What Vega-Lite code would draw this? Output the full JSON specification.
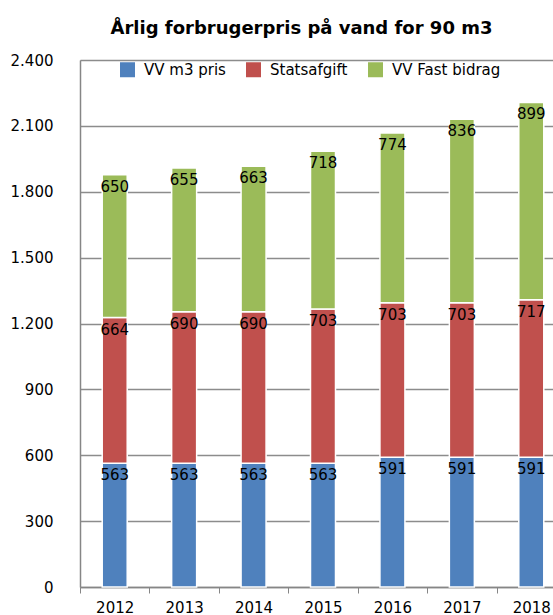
{
  "$schema": "https://vega.github.io/schema/vega-lite/v6.json",
  "autosize": {"type": "none"},
  "padding": {"left": 80, "top": 60, "right": 0, "bottom": 28},
  "width": 473,
  "height": 527,
  "background": "white",
  "title": {
    "text": "Årlig forbrugerpris på vand for 90 m3",
    "font": "DejaVu Sans",
    "fontSize": 18,
    "fontWeight": "bold",
    "color": "#000000",
    "anchor": "middle",
    "dx": -15,
    "offset": 15
  },
  "data": {
    "values": [
      {"year": "2012", "serie": "VV m3 pris", "ord": 1, "value": 563},
      {"year": "2013", "serie": "VV m3 pris", "ord": 1, "value": 563},
      {"year": "2014", "serie": "VV m3 pris", "ord": 1, "value": 563},
      {"year": "2015", "serie": "VV m3 pris", "ord": 1, "value": 563},
      {"year": "2016", "serie": "VV m3 pris", "ord": 1, "value": 591},
      {"year": "2017", "serie": "VV m3 pris", "ord": 1, "value": 591},
      {"year": "2018", "serie": "VV m3 pris", "ord": 1, "value": 591},
      {"year": "2012", "serie": "Statsafgift", "ord": 2, "value": 664},
      {"year": "2013", "serie": "Statsafgift", "ord": 2, "value": 690},
      {"year": "2014", "serie": "Statsafgift", "ord": 2, "value": 690},
      {"year": "2015", "serie": "Statsafgift", "ord": 2, "value": 703},
      {"year": "2016", "serie": "Statsafgift", "ord": 2, "value": 703},
      {"year": "2017", "serie": "Statsafgift", "ord": 2, "value": 703},
      {"year": "2018", "serie": "Statsafgift", "ord": 2, "value": 717},
      {"year": "2012", "serie": "VV Fast bidrag", "ord": 3, "value": 650},
      {"year": "2013", "serie": "VV Fast bidrag", "ord": 3, "value": 655},
      {"year": "2014", "serie": "VV Fast bidrag", "ord": 3, "value": 663},
      {"year": "2015", "serie": "VV Fast bidrag", "ord": 3, "value": 718},
      {"year": "2016", "serie": "VV Fast bidrag", "ord": 3, "value": 774},
      {"year": "2017", "serie": "VV Fast bidrag", "ord": 3, "value": 836},
      {"year": "2018", "serie": "VV Fast bidrag", "ord": 3, "value": 899}
    ]
  },
  "transform": [
    {"stack": "value", "groupby": ["year"], "sort": [{"field": "ord", "order": "ascending"}], "as": ["y0", "y1"]}
  ],
  "encoding": {
    "x": {
      "field": "year",
      "type": "ordinal",
      "scale": {"range": [0, 486], "paddingInner": 0, "paddingOuter": 0},
      "axis": {
        "title": null,
        "labelAngle": 0,
        "labelFont": "DejaVu Sans",
        "labelFontSize": 15,
        "labelColor": "#000000",
        "labelPadding": 7,
        "tickBand": "extent",
        "tickSize": 6,
        "tickColor": "#868686",
        "domainColor": "#868686",
        "domainWidth": 1.5,
        "grid": false
      }
    }
  },
  "layer": [
    {
      "mark": {"type": "bar", "size": 25, "stroke": "white", "strokeWidth": 1.5},
      "encoding": {
        "y": {
          "field": "y0",
          "type": "quantitative",
          "scale": {"domain": [0, 2400], "nice": false},
          "axis": {
            "title": null,
            "values": [0, 300, 600, 900, 1200, 1500, 1800, 2100, 2400],
            "labelExpr": "replace(format(datum.value, ','), ',', '.')",
            "labelFont": "DejaVu Sans",
            "labelFontSize": 15,
            "labelColor": "#000000",
            "labelPadding": 27,
            "ticks": false,
            "domainColor": "#868686",
            "domainWidth": 1.5,
            "grid": true,
            "gridColor": "#8c8c8c",
            "gridWidth": 1.5
          }
        },
        "y2": {"field": "y1"},
        "color": {
          "field": "serie",
          "type": "nominal",
          "scale": {
            "domain": ["VV m3 pris", "Statsafgift", "VV Fast bidrag"],
            "range": ["#4F81BD", "#C0504D", "#9BBB59"]
          },
          "legend": {
            "title": null,
            "orient": "none",
            "direction": "horizontal",
            "legendX": 40,
            "legendY": 2,
            "padding": 0,
            "symbolType": "square",
            "symbolSize": 225,
            "symbolStrokeWidth": 0,
            "labelFont": "DejaVu Sans",
            "labelFontSize": 15,
            "labelColor": "#000000",
            "labelOffset": 9,
            "columnPadding": 20
          }
        }
      }
    },
    {
      "mark": {"type": "text", "baseline": "top", "dy": 5, "font": "DejaVu Sans", "fontSize": 15, "color": "#000000"},
      "encoding": {
        "y": {"field": "y1", "type": "quantitative"},
        "text": {"field": "value", "type": "quantitative"}
      }
    }
  ]
}
